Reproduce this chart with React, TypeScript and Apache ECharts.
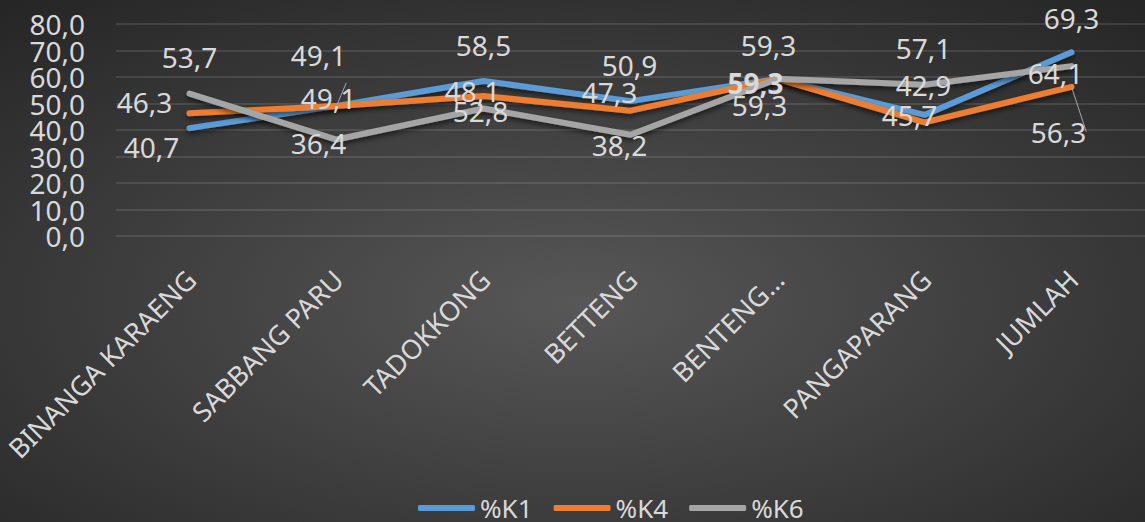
import React, { useEffect, useRef } from "react";
import * as echarts from "echarts";

const categories = ["BINANGA KARAENG", "SABBANG PARU", "TADOKKONG", "BETTENG", "BENTENG…", "PANGAPARANG", "JUMLAH"];
const k1 = [40.7, 49.1, 58.5, 50.9, 59.3, 45.7, 69.3];
const k4 = [46.3, 49.1, 52.8, 47.3, 59.3, 42.9, 56.3];
const k6 = [53.7, 36.4, 48.1, 38.2, 59.3, 57.1, 64.1];
const seriesNames = ["%K1", "%K4", "%K6"];
const yMin = 0;
const yMax = 80;
const yStep = 10;

// label placement (style only)
const off1 = [[-38, 19], [-18, -51], [0, -36], [-1, -36], [-9, -34], [-15, 0], [0, -34]];
const off4 = [[-45, -11], [-8, -8], [-3, 15], [-21, -19], [-22, 4], [-1, -37], [-13, 45]];
const off6 = [[0, -37], [-18, 3], [-11, -17.5], [-11, 10], [-18, 26], [-1, -37], [-16, 7]];
const colors = ["#5b9bd5", "#ed7d31", "#a5a5a5"];

const FONT = "Noto Sans";
const fmt = (v: number) => v.toFixed(1).replace(".", ",");

function makeSeries(name: string, values: number[], offs: number[][], color: string, boldIdx: number[], leaderIdx: number[]) {
  return {
    name,
    type: "line",
    yAxisIndex: 0,
    data: values.map((v, i) => ({
      value: v,
      label: {
        offset: offs[i],
        fontWeight: boldIdx.includes(i) ? "bold" : "normal",
      },
      labelLine: leaderIdx.includes(i) ? { show: true, lineStyle: { color: "#a6a6a6", width: 1 } } : { show: false },
    })),
    symbol: "circle",
    symbolSize: 2,
    itemStyle: { color },
    lineStyle: {
      color,
      width: 6,
      cap: "round",
      join: "round",
      shadowBlur: 5,
      shadowColor: "rgba(0,0,0,0.55)",
      shadowOffsetY: 3,
    },
    label: {
      show: true,
      position: "inside",
      color: "#d9d9d9",
      fontSize: 28,
      fontFamily: FONT,
      formatter: (p: any) => fmt(p.value),
    },
    emphasis: { disabled: true },
  };
}

const yLabelStyle = {
  color: "#d9d9d9",
  fontSize: 28,
  fontFamily: FONT,
  margin: 31,
  hideOverlap: false,
};

export default function App() {
  const ref = useRef<HTMLDivElement>(null);
  useEffect(() => {
    if (!ref.current) return;
    const chart = echarts.init(ref.current, undefined, { renderer: "svg" });
    chart.setOption({
      animation: false,
      backgroundColor: {
        type: "radial",
        x: 0.5,
        y: 0.58,
        r: 0.75,
        colorStops: [
          { offset: 0, color: "#575757" },
          { offset: 1, color: "#262626" },
        ],
      },
      grid: { left: 116, top: 24, bottom: 286, right: -45, containLabel: false },
      legend: {
        top: 490,
        left: 413,
        icon: "roundRect",
        itemWidth: 57,
        itemHeight: 6,
        itemGap: 21,
        textStyle: { color: "#d9d9d9", fontSize: 26, fontFamily: FONT },
        data: seriesNames,
      },
      xAxis: {
        type: "category",
        data: categories,
        boundaryGap: true,
        axisLine: { show: false },
        axisTick: { show: false },
        axisLabel: {
          rotate: 45,
          interval: 0,
          color: "#d9d9d9",
          fontSize: 27,
          fontFamily: FONT,
          margin: 40,
          padding: [0, -2, 0, 0],
        },
      },
      yAxis: [
        {
          type: "value",
          position: "left",
          min: yMin,
          max: yMax,
          interval: yStep,
          axisLine: { show: false },
          axisTick: { show: false },
          splitLine: { lineStyle: { color: "rgba(255,255,255,0.14)", width: 1.5 } },
          axisLabel: {
            ...yLabelStyle,
            showMinLabel: true,
            showMaxLabel: true,
            formatter: (v: number) => (Math.round(v / yStep) % 2 === 0 ? fmt(v) : ""),
          },
        },
        {
          type: "value",
          position: "left",
          offset: 0,
          min: yMin,
          max: yMax,
          interval: yStep,
          axisLine: { show: false },
          axisTick: { show: false },
          splitLine: { show: false },
          axisLabel: {
            ...yLabelStyle,
            showMinLabel: false,
            showMaxLabel: false,
            formatter: (v: number) => (Math.round(v / yStep) % 2 === 1 ? fmt(v) : ""),
          },
        },
      ],
      series: [
        makeSeries(seriesNames[0], k1, off1, colors[0], [], [1]),
        makeSeries(seriesNames[1], k4, off4, colors[1], [4], [6]),
        makeSeries(seriesNames[2], k6, off6, colors[2], [], []),
      ],
    });
    return () => chart.dispose();
  }, []);
  return <div ref={ref} style={{ position: "absolute", left: 0, top: 0, width: 1145, height: 522, overflow: "hidden" }} />;
}
